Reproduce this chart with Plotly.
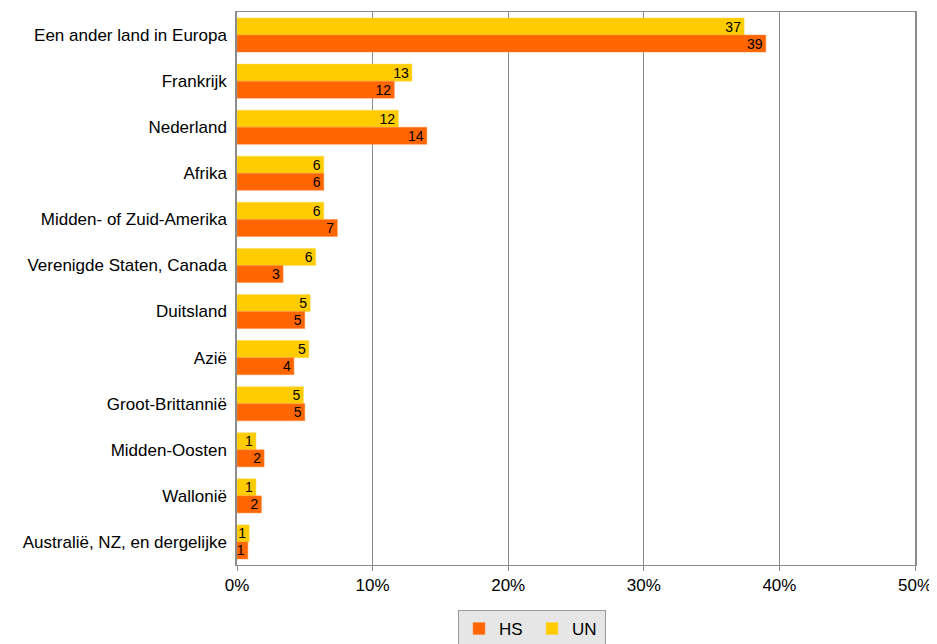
import plotly.graph_objects as go

categories = [
    "Een ander land in Europa", "Frankrijk", "Nederland", "Afrika",
    "Midden- of Zuid-Amerika", "Verenigde Staten, Canada", "Duitsland",
    "Azië", "Groot-Brittannië", "Midden-Oosten", "Wallonië",
    "Australië, NZ, en dergelijke",
]
hs_values = [39.0, 11.6, 14.0, 6.4, 7.4, 3.4, 5.0, 4.2, 5.0, 2.0, 1.8, 0.8]
un_values = [37.4, 12.9, 11.9, 6.4, 6.4, 5.8, 5.4, 5.3, 4.9, 1.4, 1.4, 0.9]
x_ticks = [0, 10, 20, 30, 40, 50]
x_tick_labels = ["0%", "10%", "20%", "30%", "40%", "50%"]

font_family = "Liberation Sans, Arial, sans-serif"

# page body adds an 8px margin; compensate
W, H = 929, 636

fig = go.Figure()
fig.add_trace(go.Bar(
    y=categories, x=un_values, name="UN", orientation="h",
    marker=dict(color="#FFCC00", line=dict(color="#FFD84D", width=0.5)),
    texttemplate="%{x:.0f}", textposition="inside", insidetextanchor="end",
    textangle=0,
    textfont=dict(color="black", size=14, family=font_family),
    legendrank=2,
))
fig.add_trace(go.Bar(
    y=categories, x=hs_values, name="HS", orientation="h",
    marker=dict(color="#FF6600", line=dict(color="#FF8A40", width=0.5)),
    texttemplate="%{x:.0f}", textposition="inside", insidetextanchor="end",
    textangle=0,
    textfont=dict(color="black", size=14, family=font_family),
    legendrank=1,
))

fig.update_layout(
    width=W, height=H,
    margin=dict(l=229, r=22, t=4, b=79),
    barmode="group", bargap=0.26, bargroupgap=0,
    plot_bgcolor="white", paper_bgcolor="white",
    font=dict(family=font_family, size=17, color="black"),
    uniformtext=dict(minsize=14, mode="show"),
    legend=dict(
        orientation="h", x=(458 - 8) / W, y=1 - (610 - 8) / H,
        xref="container", yref="container",
        xanchor="left", yanchor="top",
        bgcolor="#E6E6E6", bordercolor="#999999", borderwidth=1,
        font=dict(size=17), itemwidth=30, traceorder="normal",
        tracegroupgap=0, entrywidth=28, entrywidthmode="pixels",
    ),
    showlegend=True,
)
fig.update_xaxes(
    range=[0, 50], tickvals=x_ticks, ticktext=x_tick_labels,
    showgrid=True, gridcolor="#8C8C8C", gridwidth=1,
    showline=True, linecolor="#8C8C8C", linewidth=1, mirror=True,
    zeroline=False, ticks="outside", ticklen=5, tickcolor="#8C8C8C",
    automargin=False,
)
fig.update_yaxes(
    autorange="reversed", showline=True, linecolor="#8C8C8C", linewidth=2,
    mirror=True, ticks="", ticksuffix=" ", automargin=False,
)

fig.write_html("out.html")
